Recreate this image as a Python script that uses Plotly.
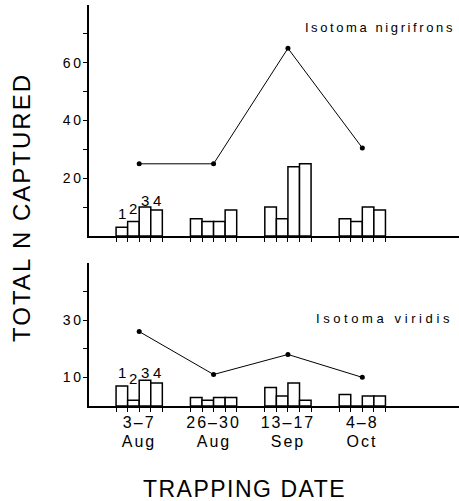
import plotly.graph_objects as go

# ---- data ----
date_ranges = ["3–7", "26–30", "13–17", "4–8"]
months = ["Aug", "Aug", "Sep", "Oct"]
traps = ["1", "2", "3", "4"]

nig_trap1 = [3, 6, 10, 6]
nig_trap2 = [5, 5, 6, 5]
nig_trap3 = [10, 5, 24, 10]
nig_trap4 = [9, 9, 25, 9]
nig_total = [25, 25, 65, 30.5]

vir_trap1 = [7, 3, 6.5, 4]
vir_trap2 = [2, 2, 3.5, 0]
vir_trap3 = [9, 3, 8, 3.5]
vir_trap4 = [8, 3, 2, 3.5]
vir_total = [26, 11, 18, 10]

# label heights for the trap numbers above the first group
nig_num_y = [7.8, 9.5, 12.3, 12.3]
vir_num_y = [11.7, 9.6, 11.7, 11.7]

FONT = "Liberation Sans"
BARGAP = 0.378
w = (1 - BARGAP) / 4
xs = list(range(len(date_ranges)))

def sp(t, ls):
    return f'<span style="letter-spacing:{ls}px">{t}</span>'

fig = go.Figure()

panels = [
    ("x", "y", [nig_trap1, nig_trap2, nig_trap3, nig_trap4], nig_total),
    ("x2", "y2", [vir_trap1, vir_trap2, vir_trap3, vir_trap4], vir_total),
]
for xa, ya, series, total in panels:
    for name, vals in zip(traps, series):
        fig.add_trace(go.Bar(
            x=xs, y=vals, name=name, xaxis=xa, yaxis=ya,
            marker=dict(color="white", line=dict(color="black", width=1.5)),
            showlegend=False,
        ))
    fig.add_trace(go.Scatter(
        x=xs, y=total, xaxis=xa, yaxis=ya, mode="lines+markers",
        line=dict(color="black", width=1),
        marker=dict(color="black", size=5),
        showlegend=False,
    ))

# tick positions at bar edges
tickvals = []
ticktext_bottom = []
for c, lab in zip(xs, date_ranges):
    for k in range(-2, 3):
        tickvals.append(c + k * w)
        ticktext_bottom.append(sp(lab, 2) if k == 0 else "")

xcommon = dict(
    range=[-0.675, 4.30], showline=True, linecolor="black", linewidth=1.5,
    ticks="outside", ticklen=4, tickwidth=1, tickcolor="black",
    tickvals=tickvals, showgrid=False, zeroline=False, ticklabelstandoff=-3,
    tickfont=dict(family=FONT, size=16, color="black"),
)
ycommon = dict(
    showline=True, linecolor="black", linewidth=1.5,
    ticks="outside", ticklen=4, tickwidth=1, tickcolor="black",
    showgrid=False, zeroline=False, ticklabelstandoff=-3,
    tickfont=dict(family=FONT, size=14, color="black"),
)

fig.update_layout(
    width=459, height=501,
    margin=dict(l=89, r=0, t=5, b=95),
    paper_bgcolor="white", plot_bgcolor="white",
    barmode="group", bargap=BARGAP, bargroupgap=0,
    xaxis=dict(xcommon, anchor="y", ticktext=[""] * len(tickvals)),
    yaxis=dict(ycommon, domain=[0.424, 1], range=[0, 80],
               tickvals=[20, 40, 60],
               ticktext=[sp(str(v), 2.5) for v in [20, 40, 60]],
               minor=dict(tickvals=[10, 30, 50, 70], ticks="outside",
                          ticklen=4, tickcolor="black")),
    xaxis2=dict(xcommon, anchor="y2", ticktext=ticktext_bottom),
    yaxis2=dict(ycommon, domain=[0, 0.357], range=[0, 50],
                tickvals=[10, 30],
                ticktext=[sp(str(v), 2.5) for v in [10, 30]],
                minor=dict(tickvals=[20, 40], ticks="outside",
                           ticklen=4, tickcolor="black")),
    showlegend=False,
)

annos = [
    dict(text=sp("Isotoma nigrifrons", 2.6), x=0.995, y=0.943, width=176,
         xanchor="right", yanchor="middle", align="right", font=dict(size=13)),
    dict(text=sp("Isotoma viridis", 3.6), x=0.989, y=0.217, width=145,
         xanchor="right", yanchor="middle", align="right", font=dict(size=13)),
    dict(text=sp("TOTAL N CAPTURED", 2), x=-0.181, y=0.494, textangle=-90,
         width=275, xanchor="center", yanchor="middle", align="center",
         font=dict(size=24)),
    dict(text=sp("TRAPPING DATE", 1.5), x=0.42, y=-0.207, width=215,
         xanchor="center", yanchor="middle", align="center", font=dict(size=23)),
]
for a in annos:
    a.update(xref="paper", yref="paper", showarrow=False)
    a["font"] = dict(a["font"], family=FONT, color="black")
    fig.add_annotation(**a)

# month line under the date ranges
for c, m in zip(xs, months):
    fig.add_annotation(
        text=sp(m, 2), x=c, y=-0.0875, xref="x2", yref="paper", width=50,
        showarrow=False, xanchor="center", yanchor="middle", align="center",
        font=dict(family=FONT, size=16, color="black"),
    )

for xa, ya, ys in [("x", "y", nig_num_y), ("x2", "y2", vir_num_y)]:
    for i, (t, yv) in enumerate(zip(traps, ys)):
        fig.add_annotation(
            text=t, x=xs[0] + (i - 1.5) * w, y=yv, xref=xa, yref=ya,
            showarrow=False, xanchor="center", yanchor="middle",
            font=dict(family=FONT, size=15, color="black"),
        )

fig.write_html("out.html", config={"displayModeBar": False},
               post_script="document.body.style.margin='0';")
